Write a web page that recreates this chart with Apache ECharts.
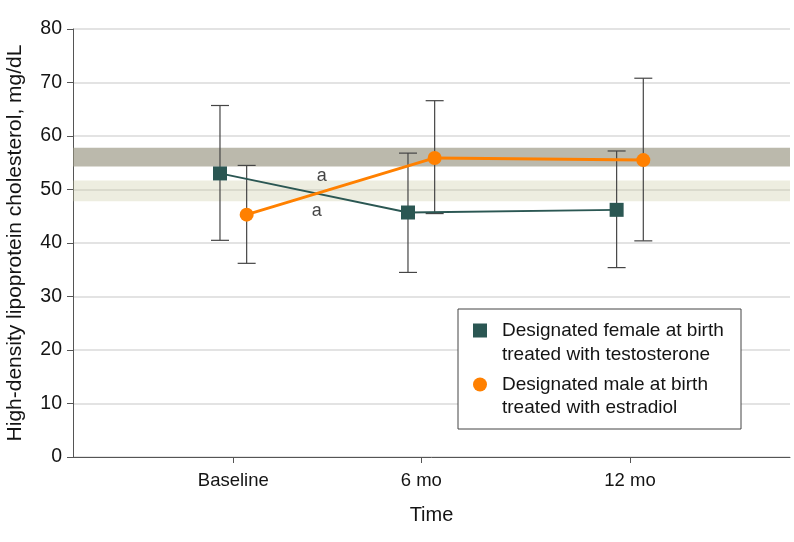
<!DOCTYPE html>
<html>
<head>
<meta charset="utf-8">
<script src="https://cdn.jsdelivr.net/npm/echarts@6/dist/echarts.min.js"></script>
<style>html,body{margin:0;padding:0;background:#fff;}#c{width:794px;height:542px;}</style>
</head>
<body>
<div id="c"></div>
<script>
// ---- data ----
const categories = ['Baseline', '6 mo', '12 mo'];
const tickPos = [22.36, 48.58, 77.68];        // category positions on a 0-100 x scale
const dodge = 1.86;                           // horizontal dodge of the two groups
const femaleName = 'Designated female at birth\ntreated with testosterone';
const maleName = 'Designated male at birth\ntreated with estradiol';
const femaleMean = [53.0, 45.7, 46.2];
const femaleLow  = [40.5, 34.5, 35.4];
const femaleHigh = [65.7, 56.8, 57.2];
const maleMean = [45.3, 55.9, 55.5];
const maleLow  = [36.2, 45.5, 40.4];
const maleHigh = [54.5, 66.6, 70.8];
const darkBand = [54.3, 57.8];
const lightBand = [47.8, 51.7];
const annotations = [
  { x: 34.7, y: 52.5, text: 'a' },
  { x: 34.0, y: 46.0, text: 'a' }
];

// ---- build ----
const FONT = 'Liberation Sans';
const TXT = '#141414';
const femaleColor = '#2b5753';
const maleColor = '#ff8000';
const femaleX = tickPos.map(p => p - dodge);
const maleX = tickPos.map(p => p + dodge);
const femalePts = femaleMean.map((v, i) => [femaleX[i], v]);
const malePts = maleMean.map((v, i) => [maleX[i], v]);
const errData = [];
femaleMean.forEach((v, i) => errData.push([femaleX[i], femaleLow[i], femaleHigh[i]]));
maleMean.forEach((v, i) => errData.push([maleX[i], maleLow[i], maleHigh[i]]));

function errorItem(params, api) {
  const x = api.value(0);
  const lo = api.coord([x, api.value(1)]);
  const hi = api.coord([x, api.value(2)]);
  const hw = 9;
  const st = { stroke: '#454545', lineWidth: 1.2 };
  return {
    type: 'group',
    children: [
      { type: 'line', shape: { x1: lo[0], y1: lo[1], x2: hi[0], y2: hi[1] }, style: st },
      { type: 'line', shape: { x1: lo[0] - hw, y1: lo[1], x2: lo[0] + hw, y2: lo[1] }, style: st },
      { type: 'line', shape: { x1: hi[0] - hw, y1: hi[1], x2: hi[0] + hw, y2: hi[1] }, style: st }
    ]
  };
}

const chart = echarts.init(document.getElementById('c'), null, { renderer: 'canvas' });

const gridLeft = 73, gridTop = 29, gridRight = 4, gridBottom = 85;
const lx = 458, ly = 309, lw = 283, lh = 120;

const option = {
  backgroundColor: '#fff',
  animation: false,
  grid: { left: gridLeft, top: gridTop, right: gridRight, bottom: gridBottom, containLabel: false, outerBoundsMode: 'none' },
  xAxis: {
    type: 'value', min: 0, max: 100,
    name: 'Time', nameLocation: 'middle', nameGap: 48,
    nameTextStyle: { fontFamily: FONT, fontSize: 20, color: TXT },
    axisLine: { show: true, lineStyle: { color: '#555', width: 1 } },
    axisTick: { show: true, customValues: tickPos, length: 6, lineStyle: { color: '#555' } },
    axisLabel: {
      customValues: tickPos, margin: 14,
      fontFamily: FONT, fontSize: 18.5, color: TXT,
      formatter: function (v) {
        let best = 0;
        tickPos.forEach((p, i) => { if (Math.abs(p - v) < Math.abs(tickPos[best] - v)) best = i; });
        return categories[best];
      }
    },
    splitLine: { show: false }
  },
  yAxis: {
    type: 'value', min: 0, max: 80, interval: 10,
    name: 'High-density lipoprotein cholesterol, mg/dL', nameLocation: 'middle', nameGap: 47,
    nameTextStyle: { fontFamily: FONT, fontSize: 21, color: TXT },
    axisLine: { show: true, lineStyle: { color: '#555', width: 1 } },
    axisTick: { show: true, length: 6, lineStyle: { color: '#555' } },
    axisLabel: { margin: 11, fontFamily: FONT, fontSize: 19.5, color: TXT },
    splitLine: { show: true, lineStyle: { color: '#dadada', width: 1.5 } }
  },
  series: [
    {
      type: 'line', name: 'bands', data: [], silent: true, z: 1,
      markArea: {
        silent: true,
        data: [
          [{ yAxis: darkBand[0], itemStyle: { color: 'rgba(150,148,128,0.65)' } }, { yAxis: darkBand[1] }],
          [{ yAxis: lightBand[0], itemStyle: { color: 'rgba(200,200,160,0.32)' } }, { yAxis: lightBand[1] }]
        ]
      }
    },
    {
      type: 'custom', name: 'err', renderItem: errorItem, data: errData, z: 2, silent: true,
      encode: { x: 0, y: [1, 2] }
    },
    {
      type: 'line', name: femaleName, data: femalePts, z: 3,
      symbol: 'rect', symbolSize: 14, showAllSymbol: true,
      lineStyle: { color: femaleColor, width: 1.8 },
      itemStyle: { color: femaleColor, borderWidth: 0 }
    },
    {
      type: 'line', name: maleName, data: malePts, z: 4,
      symbol: 'circle', symbolSize: 14, showAllSymbol: true,
      lineStyle: { color: maleColor, width: 3 },
      itemStyle: { color: maleColor, borderWidth: 0 }
    },
    {
      type: 'scatter', name: 'annot', symbolSize: 0, z: 5, silent: true,
      data: annotations.map(a => ({ value: [a.x, a.y], label: { formatter: a.text } })),
      label: { show: true, position: 'inside', fontFamily: FONT, fontSize: 18, color: TXT }
    }
  ],
  graphic: [
    { type: 'rect', shape: { x: lx, y: ly, width: lw, height: lh }, style: { fill: '#fff', stroke: '#444', lineWidth: 1 }, z: 10 },
    { type: 'rect', shape: { x: lx + 15, y: ly + 14.5, width: 14, height: 14 }, style: { fill: femaleColor }, z: 11 },
    { type: 'circle', shape: { cx: lx + 22, cy: ly + 75.5, r: 7 }, style: { fill: maleColor }, z: 11 },
    { type: 'text', x: lx + 44, y: ly + 9.5, style: { text: femaleName, fontFamily: FONT, fontSize: 19, lineHeight: 24.5, fill: TXT, verticalAlign: 'top' }, z: 11 },
    { type: 'text', x: lx + 44, y: ly + 64.5, style: { text: maleName, fontFamily: FONT, fontSize: 19, lineHeight: 23, fill: TXT, verticalAlign: 'top' }, z: 11 }
  ]
};
chart.setOption(option);
</script>
</body>
</html>
